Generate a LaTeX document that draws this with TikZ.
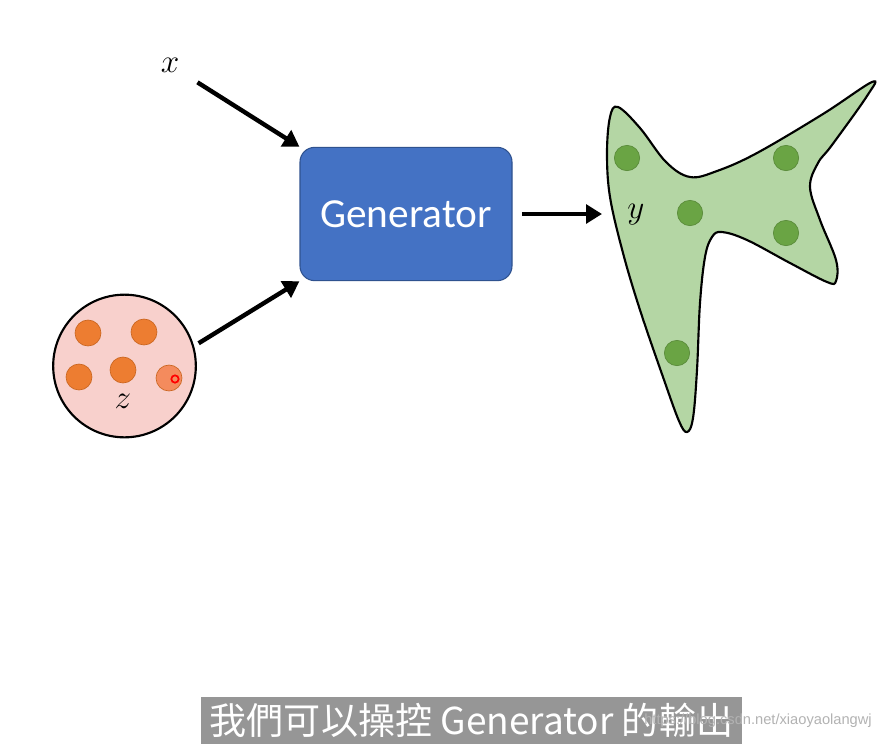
\documentclass[tikz,border=0pt]{standalone}
\usepackage{fontspec}
\newfontfamily\cjk{Noto Sans CJK TC}
\newfontfamily\calib{Carlito}
\newfontfamily\wmfont{Liberation Sans}
\definecolor{genblue}{HTML}{4472C4}
\definecolor{genedge}{HTML}{2F528F}
\definecolor{zpink}{HTML}{F8D0CC}
\definecolor{zorange}{HTML}{ED7D31}
\definecolor{zedge}{HTML}{C9651F}
\definecolor{ygreen}{HTML}{B4D6A4}
\definecolor{ydot}{HTML}{6AA444}
\definecolor{subgray}{HTML}{969696}
\usetikzlibrary{arrows.meta,positioning}

\begin{document}
\begin{tikzpicture}[x=0.75pt, y=-0.75pt,
  arr/.style={-{Triangle[length=12pt,width=14pt]}, line width=3.3pt},
  odot/.style={circle, fill=zorange, draw=zedge, line width=0.5pt, minimum size=19.5pt, inner sep=0pt},
  gdot/.style={circle, fill=ydot, draw=ydot!85!black, line width=0.5pt, minimum size=19pt, inner sep=0pt}]
  \useasboundingbox (0,0) rectangle (885,747);

  % Generator box
  \node[draw=genedge, fill=genblue, rounded corners=11pt, minimum width=159pt, minimum height=100pt,
    line width=0.8pt, text=white, font=\calib\fontsize{31}{36}\selectfont] (gen) at (406,214) {Generator};

  % Input x
  \node[font=\fontsize{25}{30}\selectfont] (xlab) at (170,65) {$x$};

  % Latent set z
  \node[circle, draw, fill=zpink, line width=1.6pt, minimum size=107pt, inner sep=0pt] (zset) at (124.5,366) {};
  \foreach \p [count=\i] in {(88,333),(144,332),(79,377),(123,370)}
    \node[odot] (o\i) at \p {};
  \node[odot, fill=zorange!80!red!75!white] (o5) at (169,378) {};
  \node[circle, draw=red, line width=1.3pt, minimum size=5.5pt, inner sep=0pt] (cur) at (175,379) {};
  \node[font=\fontsize{25}{30}\selectfont] (zlab) at (123,401) {$z$};

  % Output y
  \draw[fill=ygreen, line width=1.6pt] plot[smooth cycle, tension=0.6] coordinates {
    (618,107) (640,128) (666,162) (690,177) (717,171) (757,153) (823,114) (872,82)
    (867,96) (832,145) (818,163) (810,187) (820,220) (836,260) (836,281) (827,282)
    (790,263) (747,240) (722,232) (712,237) (705,257) (700,303) (697,370) (693,418)
    (687,432) (679,421) (663,377) (640,310) (623,253) (610,197) (607,153) (610,117)};
  \coordinate (yin) at (602,214);
  \foreach \p [count=\i] in {(627,158),(786,158),(690,213),(786,233),(677,353)}
    \node[gdot] (g\i) at \p {};
  \node[font=\fontsize{25}{30}\selectfont] (ylab) at (636,215) {$y$};

  % Arrows
  \draw[arr, shorten <=12pt] (xlab) -- (gen.north west);
  \draw[arr, shorten <=4pt] (zset.16) -- (gen.south west);
  \draw[arr, shorten <=7pt] (gen.east) -- (yin);

  % Subtitle
  \node[fill=subgray, text=white, inner sep=0pt, minimum width=406pt, minimum height=35pt,
    font=\cjk\fontsize{27.8}{30}\selectfont] (sub) at (471.5,720.5) {我們可以操控 Generator 的輸出};
  \node[text=black!30, font=\wmfont\fontsize{11}{12}\selectfont] (wm) at (758,721) {https://blog.csdn.net/xiaoyaolangwj};
\end{tikzpicture}
\end{document}
